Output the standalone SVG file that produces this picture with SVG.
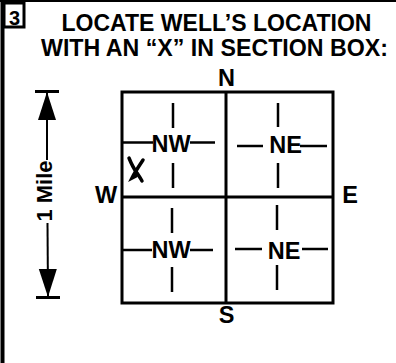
<svg xmlns="http://www.w3.org/2000/svg" width="396" height="363" viewBox="0 0 396 363">
<style>
text{font-family:"Liberation Sans",Arial,sans-serif;font-weight:bold;fill:#000}
.title{font-size:23.5px}
.lbl{font-size:23.5px;text-anchor:middle}
.grid{fill:none;stroke:#000;stroke-width:3}
.tick{stroke:#000;stroke-width:2.5;fill:none}
.dim{stroke:#000;stroke-width:2;fill:none}
</style>
<defs>
<marker id="dimArrow" markerUnits="userSpaceOnUse" viewBox="0 0 32 26" markerWidth="32" markerHeight="26" refX="29" refY="13" orient="auto">
<path d="M1,4 L29,13 L1,22 Z" fill="#000"/>
<rect x="28" y="1" width="3" height="24" fill="#000"/>
</marker>
</defs>
<rect width="396" height="363" fill="#fff"/>
<g id="frame">
<line x1="2.5" y1="0" x2="2.5" y2="363" stroke="#000" stroke-width="4"/>
<line x1="0" y1="1" x2="396" y2="1" stroke="#000" stroke-width="2"/>
</g>
<g id="step-number">
<rect x="4" y="3" width="20" height="24" fill="#fff" stroke="#000" stroke-width="3"/>
<text x="14.5" y="24.5" font-size="20" text-anchor="middle">3</text>
</g>
<g id="title">
<text class="title" x="61.5" y="30.5" textLength="310" lengthAdjust="spacingAndGlyphs">LOCATE WELL’S LOCATION</text>
<text class="title" x="41" y="55.5" textLength="347" lengthAdjust="spacingAndGlyphs">WITH AN “X” IN SECTION BOX:</text>
</g>
<g id="compass">
<text class="lbl" x="226.5" y="86" font-size="24">N</text>
<text class="lbl" x="226.5" y="323">S</text>
<text class="lbl" x="106" y="203">W</text>
<text class="lbl" x="350" y="203">E</text>
</g>
<g id="section-box">
<rect class="grid" x="122" y="92" width="211" height="211"/>
<line class="grid" x1="226" y1="92" x2="226" y2="303"/>
<line class="grid" x1="122" y1="197" x2="333" y2="197"/>
</g>
<g id="quadrant-nw-upper">
<line class="tick" x1="173" y1="103" x2="173" y2="128"/>
<line class="tick" x1="173" y1="163" x2="173" y2="188"/>
<line class="tick" x1="122" y1="142.5" x2="153" y2="142.5"/>
<line class="tick" x1="190" y1="142.5" x2="215" y2="142.5"/>
<text class="lbl" x="171" y="152">NW</text>
</g>
<g id="quadrant-ne-upper">
<line class="tick" x1="278" y1="103" x2="278" y2="127"/>
<line class="tick" x1="278" y1="163" x2="278" y2="188"/>
<line class="tick" x1="237" y1="146" x2="263" y2="146"/>
<line class="tick" x1="300" y1="146" x2="327" y2="146"/>
<text class="lbl" x="285.5" y="152.5">NE</text>
</g>
<g id="quadrant-nw-lower">
<line class="tick" x1="172" y1="208" x2="172" y2="233"/>
<line class="tick" x1="172" y1="267" x2="172" y2="292"/>
<line class="tick" x1="123" y1="250" x2="152" y2="250"/>
<line class="tick" x1="190" y1="250" x2="213" y2="250"/>
<text class="lbl" x="171" y="258">NW</text>
</g>
<g id="quadrant-ne-lower">
<line class="tick" x1="277" y1="205" x2="277" y2="230"/>
<line class="tick" x1="277" y1="265" x2="277" y2="290"/>
<line class="tick" x1="235" y1="249" x2="262" y2="249"/>
<line class="tick" x1="302" y1="249" x2="328" y2="249"/>
<text class="lbl" x="284" y="258.5">NE</text>
</g>
<g id="well-mark" fill="none" stroke="#000" stroke-width="3.5" stroke-linecap="round">
<path d="M129,158 C131,163 134,169 137,173 C139,176 141,179 142,181"/>
<path d="M143,160 C139,166 135,172 132,178 L136,176"/>
</g>
<g id="connectors">
<path class="dim" d="M47,160 L47,92" marker-end="url(#dimArrow)"/>
<path class="dim" d="M47.5,223 L48,297" marker-end="url(#dimArrow)"/>
<text font-size="22" text-anchor="middle" transform="translate(52,191) rotate(-90)">1 Mile</text>
</g>
</svg>
